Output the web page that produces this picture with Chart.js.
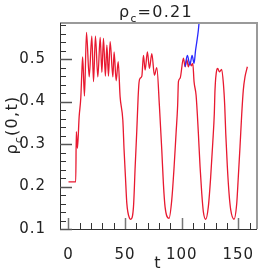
<!DOCTYPE html>
<html>
<head>
<meta charset="utf-8">
<script src="https://cdn.jsdelivr.net/npm/chart.js@4.4.1/dist/chart.umd.min.js"></script>
<style>
  html, body { margin: 0; padding: 0; background: #fff; }
  #wrap { width: 271px; height: 271px; }
</style>
</head>
<body>
<div id="wrap"><canvas id="rhoChart"></canvas></div>
<script>
// red curve (full run)
const tRed = [0, 6.4, 6.9, 7.9, 9.4, 10.9, 11.8, 12.5, 14.1, 15.9, 18.3, 20.6, 22.1, 23.8, 25.9, 28.0,
  29.5, 30.9, 32.6, 33.9, 35.3, 36.8, 39.2, 40.3, 42.1, 43.9, 45.6, 48.0, 49.1, 50.3, 51.5, 53.8,
  55.0, 57.4, 58.9, 60.3, 61.5, 62.3, 63.3, 64.8, 66.2, 67.7, 69.7, 71.5, 73.6, 75.9, 78.0, 80.3,
  82.4, 83.8, 85.3, 88.8, 91.2, 93.3, 95.0, 96.4, 97.1, 98.6, 101.5, 103.0, 104.5, 105.9, 107.4,
  108.5, 109.8, 110.9, 112.7, 113.8, 114.7, 116.2, 117.7, 119.1, 121.2, 123.5, 125.6, 127.4, 128.8,
  129.4, 130.9, 131.8, 133.2, 135.3, 136.8, 138.0, 138.9, 140.3, 141.8, 143.3, 146.2, 148.6, 150.0,
  151.5, 153.0, 154.4, 155.9, 158.0];
const vRed = [0.211, 0.211, 0.329, 0.29, 0.364, 0.41, 0.47, 0.505, 0.413, 0.563, 0.458, 0.554, 0.447, 0.554, 0.458, 0.551,
  0.469, 0.549, 0.46, 0.533, 0.46, 0.541, 0.458, 0.517, 0.449, 0.494, 0.411, 0.356, 0.286, 0.223, 0.161, 0.126,
  0.123, 0.152, 0.247, 0.33, 0.41, 0.445, 0.455, 0.46, 0.509, 0.474, 0.517, 0.478, 0.513, 0.462, 0.48, 0.39,
  0.286, 0.208, 0.152, 0.125, 0.168, 0.247, 0.325, 0.39, 0.447, 0.455, 0.502, 0.482, 0.499, 0.482, 0.494,
  0.484, 0.49, 0.447, 0.415, 0.37, 0.326, 0.247, 0.184, 0.141, 0.123, 0.152, 0.223, 0.302, 0.372,
  0.427, 0.474, 0.478, 0.47, 0.476, 0.443, 0.39, 0.325, 0.247, 0.184, 0.145, 0.123, 0.16, 0.223,
  0.294, 0.37, 0.427, 0.458, 0.482];

// blue curve, only where it leaves the red one
const tBlue = [103.0, 105.0, 107.2, 109.2, 110.9, 112.2, 113.3, 114.7, 115.8];
const vBlue = [0.482, 0.509, 0.486, 0.509, 0.49, 0.52, 0.54, 0.568, 0.6];

const xRange = [-7.5, 166.5];
const yRange = [0.1, 0.585];

function pts(ts, vs) {
  return ts.map((t, i) => ({ x: t, y: vs[i] }));
}

function isMult(v, step) {
  const r = v / step;
  return Math.abs(r - Math.round(r)) < 1e-6;
}

const FONT = 'DejaVu Sans';

// draw text with a subscript part: parts = [[text, sub?], ...]
function drawParts(ctx, parts, size) {
  let w = 0;
  parts.forEach(p => {
    ctx.font = (p[1] ? size * 0.66 : size) + 'px "' + FONT + '"';
    p.w = ctx.measureText(p[0]).width;
    w += p.w;
  });
  let x = -w / 2;
  parts.forEach(p => {
    ctx.font = (p[1] ? size * 0.66 : size) + 'px "' + FONT + '"';
    ctx.fillText(p[0], x, p[1] ? size * 0.3 : 0);
    x += p.w;
  });
}

// wider lettering, like the original plot's font
const spacing = {
  id: 'spacing',
  beforeDraw(chart) { chart.ctx.letterSpacing = '1px'; }
};

const frame = {
  id: 'frame',
  afterDraw(chart) {
    const ctx = chart.ctx;
    const a = chart.chartArea;
    const xs = chart.scales.x, ys = chart.scales.y;
    ctx.save();
    // top / right frame
    ctx.strokeStyle = '#9a9a9a';
    ctx.lineWidth = 2;
    ctx.beginPath();
    ctx.moveTo(a.left, a.top); ctx.lineTo(a.right, a.top); ctx.lineTo(a.right, a.bottom);
    ctx.stroke();
    // left / bottom axes
    ctx.strokeStyle = '#333';
    ctx.lineWidth = 1;
    ctx.beginPath();
    ctx.moveTo(a.left + 0.5, a.top); ctx.lineTo(a.left + 0.5, a.bottom + 0.5); ctx.lineTo(a.right, a.bottom + 0.5);
    ctx.stroke();
    // inward ticks
    ys.ticks.forEach(tk => {
      const y = Math.round(ys.getPixelForValue(tk.value)) + 0.5;
      const major = isMult(tk.value, 0.1);
      ctx.strokeStyle = major ? '#555' : '#333';
      ctx.lineWidth = major ? 1.5 : 1;
      ctx.beginPath();
      ctx.moveTo(a.left, y); ctx.lineTo(a.left + (major ? 12 : 6), y);
      ctx.stroke();
    });
    xs.ticks.forEach(tk => {
      const x = Math.round(xs.getPixelForValue(tk.value)) + 0.5;
      const major = isMult(tk.value, 50);
      ctx.strokeStyle = major ? '#777' : '#333';
      ctx.lineWidth = major ? 1.5 : 1;
      ctx.beginPath();
      ctx.moveTo(x, a.bottom); ctx.lineTo(x, a.bottom - (major ? 11 : 6));
      ctx.stroke();
    });
    // titles
    ctx.fillStyle = '#222';
    ctx.textBaseline = 'alphabetic';
    ctx.textAlign = 'left';
    ctx.letterSpacing = '1.3px';
    ctx.save();
    ctx.translate(156, 17);
    drawParts(ctx, [['ρ'], ['c', true], ['=0.21']], 16);
    ctx.restore();
    ctx.save();
    ctx.translate(17, (a.top + a.bottom) / 2 - 1);
    ctx.rotate(-Math.PI / 2);
    drawParts(ctx, [['ρ'], ['c', true], ['(0,t)']], 16);
    ctx.restore();
    ctx.font = '16px "' + FONT + '"';
    ctx.textAlign = 'center';
    ctx.fillText('t', 158, 268);
    ctx.restore();
  }
};

new Chart(document.getElementById('rhoChart'), {
  type: 'scatter',
  data: {
    datasets: [{
      data: pts(tRed, vRed),
      showLine: true,
      borderColor: 'rgb(232, 25, 48)',
      borderWidth: 1.3,
      pointRadius: 0,
      cubicInterpolationMode: 'monotone',
      order: 2
    }, {
      data: pts(tBlue, vBlue),
      showLine: true,
      borderColor: 'rgb(40, 40, 255)',
      borderWidth: 1.3,
      pointRadius: 0,
      cubicInterpolationMode: 'monotone',
      order: 1
    }]
  },
  options: {
    responsive: true,
    maintainAspectRatio: false,
    animation: false,
    layout: { padding: { top: 23, right: 14, left: 0, bottom: 0 } },
    plugins: { legend: { display: false }, tooltip: { enabled: false } },
    scales: {
      x: {
        type: 'linear',
        min: xRange[0],
        max: xRange[1],
        grid: { display: false },
        border: { display: false },
        ticks: {
          stepSize: 10,
          includeBounds: false,
          autoSkip: false,
          maxRotation: 0,
          padding: 9,
          color: '#222',
          font: { family: FONT, size: 15 },
          callback: v => isMult(v, 50) ? String(Math.round(v)) : ''
        },
        afterFit: s => { s.height = 42; }
      },
      y: {
        min: yRange[0],
        max: yRange[1],
        grid: { display: false },
        border: { display: false },
        ticks: {
          stepSize: 0.02,
          includeBounds: false,
          autoSkip: false,
          padding: 6,
          color: '#222',
          font: { family: FONT, size: 15 },
          callback: v => isMult(v, 0.1) ? v.toFixed(1) : ''
        },
        afterFit: s => { s.width = 60; }
      }
    }
  },
  plugins: [spacing, frame]
});
</script>
</body>
</html>
